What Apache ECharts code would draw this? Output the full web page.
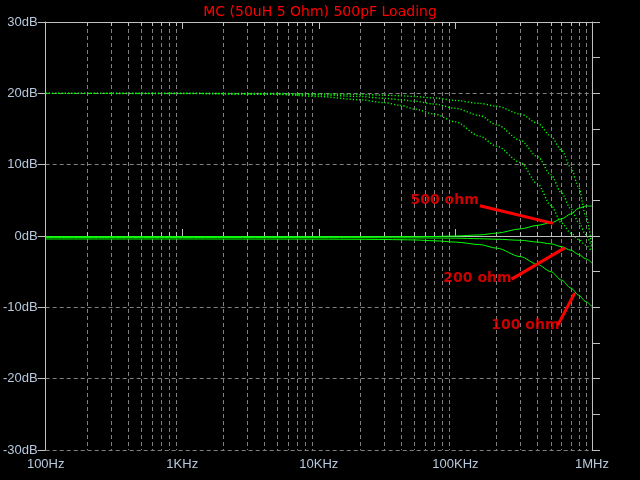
<!DOCTYPE html>
<html><head><meta charset="utf-8">
<script src="https://cdn.jsdelivr.net/npm/echarts@6/dist/echarts.min.js"></script>
<style>html,body{margin:0;padding:0;background:#000;}#c{width:640px;height:480px;}</style>
</head><body><div id="c"></div>
<script>
// Frequencies (Hz)
const freqs = [100, 1000, 5000, 10000, 20000, 30000, 40000, 50000, 70000, 100000, 150000, 200000, 300000, 400000, 500000, 600000, 700000, 800000, 900000, 1000000];
// Dotted (20 dB) curves, dB
const dotA = [20, 20, 19.97, 19.93, 19.85, 19.75, 19.65, 19.55, 19.35, 19.0, 18.6, 18.2, 17.1, 15.8, 14.0, 12.0, 9.6, 6.8, 2.8, -1.5];
const dotB = [20, 20, 19.9, 19.8, 19.55, 19.3, 19.1, 18.9, 18.5, 17.9, 16.9, 15.6, 13.4, 11.1, 8.6, 6.0, 3.8, 1.9, 0.2, -1.8];
const dotC = [20, 19.98, 19.85, 19.55, 19.1, 18.7, 18.3, 17.8, 17.1, 16.0, 14.0, 12.6, 10.3, 7.3, 4.3, 1.8, 0.4, -0.5, -1.3, -2.2];
// Solid curves, dB
const r500 = [-0.09, -0.09, -0.09, -0.09, -0.09, -0.09, -0.09, -0.09, -0.07, 0.0, 0.15, 0.4, 1.0, 1.5, 1.85, 2.4, 3.1, 3.9, 4.2, 4.2];
const r200 = [-0.21, -0.21, -0.21, -0.22, -0.23, -0.24, -0.25, -0.26, -0.28, -0.3, -0.38, -0.45, -0.6, -0.85, -1.1, -1.5, -2.0, -2.6, -3.2, -3.8];
const r100 = [-0.42, -0.42, -0.43, -0.44, -0.46, -0.49, -0.52, -0.55, -0.67, -0.85, -1.2, -1.7, -2.9, -4.0, -5.0, -6.2, -7.3, -8.3, -9.2, -9.9];
// Annotations (data coordinates: Hz, dB)
const noteNames = ['500 ohm', '200 ohm', '100 ohm'];
const noteAt = [[83400, 5.0], [145000, -5.9], [325000, -12.5]];
const arrowFrom = [[151000, 4.24], [258000, -6.05], [562000, -12.5]];
const arrowTo = [[519000, 1.77], [632000, -1.66], [748000, -7.98]];
// Tick labels
const decadeLabels = {100: '100Hz', 1000: '1KHz', 10000: '10KHz', 100000: '100KHz', 1000000: '1MHz'};
const decades = [100, 1000, 10000, 100000, 1000000];
const titleText = 'MC (50uH 5 Ohm) 500pF Loading';

const minors = [];
for (const d of [100, 1000, 10000, 100000]) for (let k = 2; k <= 9; k++) minors.push(k * d);

const axisCol = '#c0c0c0';
const labelCol = '#b8c8dc';
const gridCol = '#808080';
const green = '#00ff00';
const zip = a => freqs.map((f, i) => [f, a[i]]);
const base = {type: 'log', logBase: 10, min: 100, max: 1000000, gridIndex: 0};

const chart = echarts.init(document.getElementById('c'), null, {renderer: 'canvas'});
chart.setOption({
  backgroundColor: '#000000',
  animation: false,
  title: {text: titleText, left: 'center', top: 0, textStyle: {color: '#ff0000', fontSize: 14, fontWeight: 'normal', fontFamily: 'DejaVu Sans'}},
  grid: {left: 44, right: 48, top: 22, bottom: 30},
  xAxis: [
    Object.assign({}, base, {position: 'bottom',
      axisLine: {lineStyle: {color: axisCol, width: 1}},
      axisTick: {inside: true, length: 7, customValues: decades, lineStyle: {color: axisCol}},
      axisLabel: {customValues: decades, color: labelCol, fontSize: 13, fontFamily: 'Liberation Sans', margin: 8, formatter: v => decadeLabels[v] || ''},
      splitLine: {show: false}}),
    Object.assign({}, base, {position: 'bottom',
      axisLine: {show: false},
      axisTick: {inside: true, length: 4, customValues: minors, lineStyle: {color: axisCol}},
      axisLabel: {show: false},
      splitLine: {show: true, lineStyle: {color: gridCol, type: [4, 3], width: 1}}}),
    Object.assign({}, base, {position: 'top',
      axisLine: {lineStyle: {color: axisCol, width: 1}},
      axisTick: {inside: true, length: 7, customValues: decades, lineStyle: {color: axisCol}},
      axisLabel: {show: false}, splitLine: {show: false}}),
    Object.assign({}, base, {position: 'top',
      axisLine: {show: false},
      axisTick: {inside: true, length: 4, customValues: minors, lineStyle: {color: axisCol}},
      axisLabel: {show: false}, splitLine: {show: false}})
  ],
  yAxis: [
    {type: 'value', min: -30, max: 30, interval: 10, position: 'left',
      axisLine: {show: true, lineStyle: {color: axisCol}},
      axisTick: {show: true, inside: false, length: 8, lineStyle: {color: axisCol}},
      axisLabel: {color: labelCol, fontSize: 13, fontFamily: 'Liberation Sans', margin: 8, formatter: '{value}dB'},
      splitLine: {show: true, lineStyle: {color: gridCol, type: [4, 3], width: 1}}},
    {type: 'value', min: -30, max: 30, interval: 5, position: 'right',
      axisLine: {show: true, lineStyle: {color: axisCol}},
      axisTick: {show: true, inside: false, length: 8, lineStyle: {color: axisCol}},
      axisLabel: {show: false}, splitLine: {show: false}}
  ],
  series: [
    ...[dotA, dotB, dotC].map(a => ({type: 'line', xAxisIndex: 0, yAxisIndex: 0, data: zip(a), showSymbol: false, smooth: 0.3, smoothMonotone: 'x',
      lineStyle: {color: green, width: 1.4, type: [1.2, 2]}})),
    ...[r500, r200, r100].map(a => ({type: 'line', xAxisIndex: 0, yAxisIndex: 0, data: zip(a), showSymbol: false, smooth: 0.3, smoothMonotone: 'x',
      lineStyle: {color: green, width: 1}})),
    {type: 'scatter', xAxisIndex: 0, yAxisIndex: 0, symbolSize: 0,
      data: noteNames.map((n, i) => ({name: n, value: noteAt[i]})),
      label: {show: true, position: 'inside', formatter: p => p.name, color: '#ff0000', fontSize: 14, fontWeight: 'bold', fontFamily: 'DejaVu Sans'},
      markLine: {symbol: 'none', silent: true, label: {show: false},
        lineStyle: {color: '#ff0000', width: 3, type: 'solid'},
        data: arrowFrom.map((p, i) => [{coord: p}, {coord: arrowTo[i]}])}}
  ]
});
</script></body></html>
